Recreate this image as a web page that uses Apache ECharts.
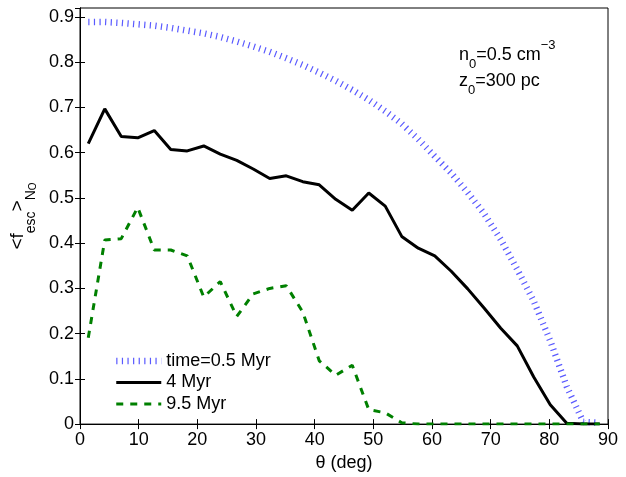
<!DOCTYPE html>
<html><head><meta charset="utf-8">
<script src="https://cdn.jsdelivr.net/npm/echarts@6/dist/echarts.min.js"></script>
<style>html,body{margin:0;padding:0;background:#fff}#c{width:626px;height:477px}</style>
</head><body><div id="c"></div>
<script>
// ---- data ----
const theta = [1.41, 4.22, 7.03, 9.84, 12.66, 15.47, 18.28, 21.09, 23.91, 26.72, 29.53, 32.34, 35.16, 37.97, 40.78, 43.59,
               46.41, 49.22, 52.03, 54.84, 57.66, 60.47, 63.28, 66.09, 68.91, 71.72, 74.53, 77.34, 80.16, 82.97, 85.78, 88.59];
const seriesNames = ['time=0.5 Myr', '4 Myr', '9.5 Myr'];
const t05 = [0.889, 0.889, 0.887, 0.884, 0.881, 0.876, 0.870, 0.864, 0.856, 0.846, 0.835, 0.823, 0.809, 0.794, 0.777, 0.759,
             0.739, 0.717, 0.692, 0.664, 0.630, 0.592, 0.555, 0.512, 0.465, 0.408, 0.342, 0.272, 0.184, 0.083, 0.005, 0.003];
const t4 = [0.620, 0.697, 0.636, 0.633, 0.649, 0.607, 0.604, 0.615, 0.597, 0.583, 0.564, 0.543, 0.549, 0.536, 0.529, 0.497,
            0.473, 0.511, 0.482, 0.415, 0.389, 0.372, 0.338, 0.299, 0.256, 0.212, 0.173, 0.104, 0.043, 0.002, 0, 0];
const t95 = [0.191, 0.407, 0.410, 0.479, 0.385, 0.385, 0.372, 0.281, 0.315, 0.238, 0.288, 0.300, 0.306, 0.248, 0.140, 0.108,
             0.130, 0.032, 0.025, 0.003, 0, 0, 0, 0, 0, 0, 0, 0, 0, 0, 0, 0];
const xRange = [0, 90], xStep = 10;
const yRange = [0, 0.92], yStep = 0.1;
const xName = 'θ (deg)';
const note1 = ['n', '0', '=0.5 cm', '−3'];
const note2 = ['z', '0', '=300 pc'];

// ---- chart ----
const FONT = 'Liberation Sans, Arial, Helvetica, sans-serif';
const pairs = v => theta.map((x, i) => [x, v[i]]);
const chart = echarts.init(document.getElementById('c'), null, {renderer: 'canvas'});
const baseAxis = {
  axisLine: {show: true, lineStyle: {color: '#000', width: 1}},
  axisTick: {show: true, inside: true, length: 5, lineStyle: {color: '#000', width: 1}},
  splitLine: {show: false}
};
const noteRich = {
  m: {fontSize: 18, lineHeight: 32, fontFamily: FONT, fill: '#000'},
  s: {fontSize: 13, lineHeight: 12, verticalAlign: 'bottom', fontFamily: FONT, fill: '#000'},
  p: {fontSize: 13, lineHeight: 17, verticalAlign: 'top', fontFamily: FONT, fill: '#000'}
};
chart.setOption({
  animation: false,
  backgroundColor: '#fff',
  grid: {left: 80, right: 18, top: 8, bottom: 42, show: true, borderColor: '#000', borderWidth: 1, containLabel: false},
  xAxis: [
    Object.assign({}, baseAxis, {
      type: 'value', min: xRange[0], max: xRange[1], interval: xStep, position: 'bottom',
      axisLabel: {color: '#000', fontSize: 18, fontFamily: FONT, margin: 7},
      name: xName, nameLocation: 'middle', nameGap: 23,
      nameTextStyle: {color: '#000', fontSize: 18, fontFamily: FONT}
    }),
    Object.assign({}, baseAxis, {
      type: 'value', min: xRange[0], max: xRange[1], interval: xStep, position: 'top',
      axisLabel: {show: false}
    })
  ],
  yAxis: [
    Object.assign({}, baseAxis, {
      type: 'value', min: yRange[0], max: yRange[1], interval: yStep, position: 'left',
      axisLabel: {color: '#000', fontSize: 18, fontFamily: FONT, margin: 6, showMaxLabel: false},
      name: '{m|<f}{e|esc}{m|>}{n|N}{o|O}', nameLocation: 'middle', nameGap: 41,
      nameTextStyle: {
        color: '#000', fontFamily: FONT, fontSize: 18,
        rich: {
          m: {fontSize: 19, lineHeight: 40, fontFamily: FONT, color: '#000'},
          e: {fontSize: 14, lineHeight: 24, verticalAlign: 'bottom', fontFamily: FONT, color: '#000'},
          n: {fontSize: 14, lineHeight: 16, verticalAlign: 'bottom', fontFamily: FONT, color: '#000'},
          o: {fontSize: 10, lineHeight: 4, verticalAlign: 'bottom', fontFamily: FONT, color: '#000'}
        }
      }
    }),
    Object.assign({}, baseAxis, {
      type: 'value', min: yRange[0], max: yRange[1], interval: yStep, position: 'right',
      axisLabel: {show: false}
    })
  ],
  legend: {
    orient: 'vertical', left: 108, top: 346, itemWidth: 45, itemHeight: 14, itemGap: 1.5,
    data: seriesNames,
    textStyle: {color: '#000', fontSize: 18, fontFamily: FONT, lineHeight: 20},
    lineStyle: {width: 'inherit', type: 'inherit'},
    itemStyle: {opacity: 0},
    selectedMode: false
  },
  series: [
    {name: seriesNames[0], type: 'line', data: pairs(t05), symbol: 'none', showSymbol: false,
     lineStyle: {color: '#5a5aff', width: 6.5, type: [1.2, 4.4], cap: 'butt'}, itemStyle: {color: '#5a5aff'}},
    {name: seriesNames[1], type: 'line', data: pairs(t4), symbol: 'none', showSymbol: false,
     lineStyle: {color: '#000', width: 3, type: 'solid'}, itemStyle: {color: '#000'}},
    {name: seriesNames[2], type: 'line', data: pairs(t95), symbol: 'none', showSymbol: false,
     lineStyle: {color: '#008000', width: 3, type: [7, 7], cap: 'butt'}, itemStyle: {color: '#008000'}}
  ],
  graphic: [
    {type: 'text', x: 459, y: 55, silent: true, style: {
      text: '{m|' + note1[0] + '}{s|' + note1[1] + '}{m|' + note1[2] + '}{p|' + note1[3] + '}',
      align: 'left', verticalAlign: 'middle', rich: noteRich}},
    {type: 'text', x: 459, y: 81, silent: true, style: {
      text: '{m|' + note2[0] + '}{s|' + note2[1] + '}{m|' + note2[2] + '}',
      align: 'left', verticalAlign: 'middle', rich: noteRich}}
  ]
});
</script>
</body></html>
